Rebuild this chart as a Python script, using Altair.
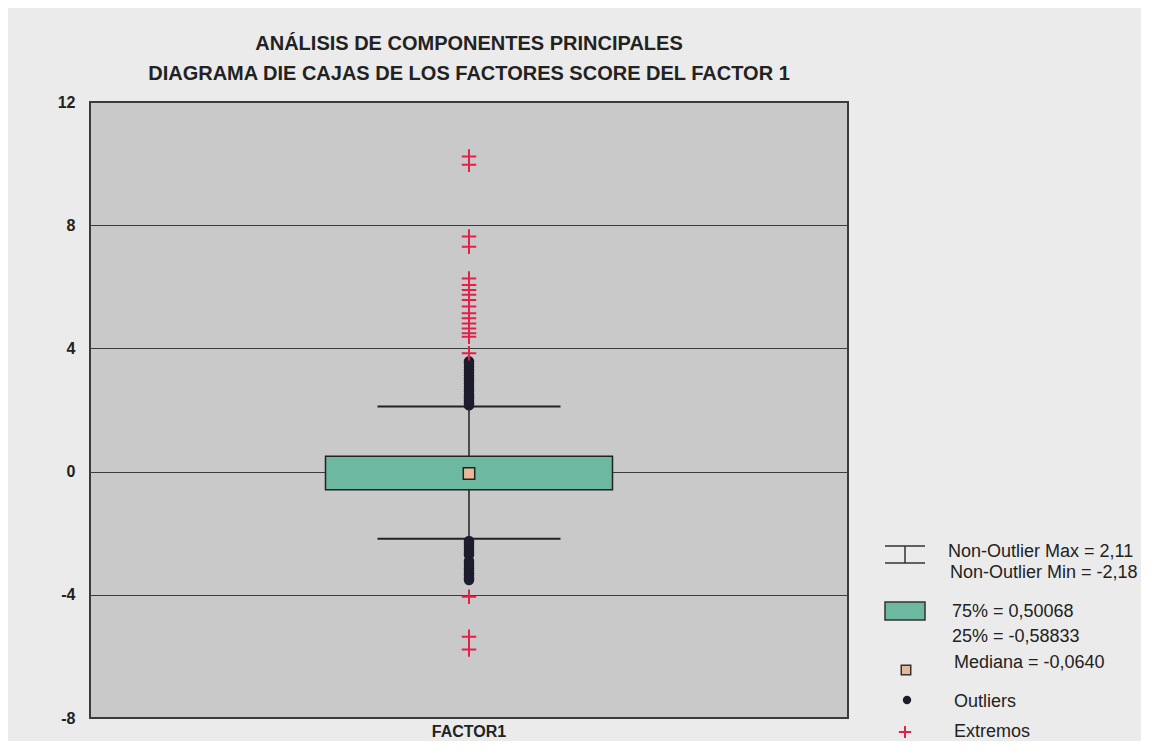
import altair as alt
import pandas as pd

# ---- data ----
category = ["FACTOR1"]
q1 = [-0.58833]
q3 = [0.50068]
median = [-0.0640]
whisker_low = [-2.18]
whisker_high = [2.11]

outliers = [2.15, 2.22, 2.30, 2.38, 2.45, 2.52, 2.60, 2.68, 2.76, 2.85, 2.94,
            3.03, 3.12, 3.21, 3.30, 3.40, 3.50, 3.58,
            -2.25, -2.32, -2.40, -2.48, -2.56, -2.64, -2.70, -2.90, -2.98,
            -3.06, -3.14, -3.22, -3.30, -3.38, -3.46, -3.52]
extremes = [10.23, 9.96, 7.63, 7.30, 6.27, 6.06, 5.90, 5.74, 5.57, 5.36, 5.14,
            4.98, 4.81, 4.65, 4.49, 4.38, 3.84, -4.06, -5.36, -5.78]

y_ticks = [12, 8, 4, 0, -4, -8]
title_lines = ["ANÁLISIS DE COMPONENTES PRINCIPALES",
               "DIAGRAMA DIE CAJAS DE LOS FACTORES SCORE DEL FACTOR 1"]
legend_texts = ["Non-Outlier Max = 2,11", "Non-Outlier Min = -2,18",
                "75% = 0,50068", "25% = -0,58833", "Mediana = -0,0640",
                "Outliers", "Extremos"]

FONT = "Liberation Sans"
TEAL = "#6cb8a0"
MED = "#e9b898"
DARK = "#1c1c2c"
RED = "#e3204a"
W, H = 758, 616

stats = pd.DataFrame({"cat": category, "q1": q1, "q3": q3, "med": median,
                      "lo": whisker_low, "hi": whisker_high})
out_df = pd.DataFrame({"cat": category * len(outliers), "v": outliers})
ext_df = pd.DataFrame({"cat": category * len(extremes), "v": extremes})

xenc = alt.X("cat:N", title=None,
             axis=alt.Axis(labelAngle=0, ticks=False, domain=False,
                           labelFont=FONT, labelFontSize=16, labelFontWeight="bold",
                           labelColor="#222", labelPadding=5))
yscale = alt.Scale(domain=[-8, 12], nice=False, zero=False)
yenc_axis = alt.Axis(values=y_ticks, grid=True, gridColor="#3c3c3c", gridWidth=1.2,
                     ticks=False, domain=False, labelFont=FONT, labelFontSize=16,
                     labelFontWeight="bold", labelColor="#222", labelPadding=15,
                     labelExpr="'' + datum.value")

base = alt.Chart(stats)

stem_up = base.mark_rule(color="#222", strokeWidth=1.5).encode(
    x=xenc, y=alt.Y("q3:Q", scale=yscale, axis=yenc_axis, title=None), y2="hi:Q")
stem_dn = base.mark_rule(color="#222", strokeWidth=1.5).encode(
    x="cat:N", y=alt.Y("lo:Q", scale=yscale), y2="q1:Q")
cap_hi = base.mark_tick(color="#222", thickness=2, size=183, opacity=1).encode(
    x="cat:N", y=alt.Y("hi:Q", scale=yscale))
cap_lo = base.mark_tick(color="#222", thickness=2, size=183, opacity=1).encode(
    x="cat:N", y=alt.Y("lo:Q", scale=yscale))

outs = alt.Chart(out_df).mark_circle(size=110, color=DARK, opacity=1).encode(
    x="cat:N", y=alt.Y("v:Q", scale=yscale))

box = base.mark_bar(size=287, color=TEAL, stroke="#222", strokeWidth=1.5).encode(
    x="cat:N", y=alt.Y("q1:Q", scale=yscale), y2="q3:Q")
med = base.mark_square(size=130, color=MED, stroke="#222", strokeWidth=1.5,
                       opacity=1).encode(x="cat:N", y=alt.Y("med:Q", scale=yscale))

plus_path = "M-1,0H1M0,-1V1"
ext = alt.Chart(ext_df).mark_point(shape=plus_path, size=210, filled=False,
                                   color=RED, strokeWidth=2, opacity=1).encode(
    x="cat:N", y=alt.Y("v:Q", scale=yscale))

# ---- legend (drawn to the right of the plot) ----
one = pd.DataFrame({"k": [0]})
lg = []
lg.append(alt.Chart(one).mark_rule(color="#333", strokeWidth=1.5).encode(
    x=alt.value(795), x2=alt.value(835), y=alt.value(444)))
lg.append(alt.Chart(one).mark_rule(color="#333", strokeWidth=1.5).encode(
    x=alt.value(795), x2=alt.value(835), y=alt.value(461)))
lg.append(alt.Chart(one).mark_rule(color="#333", strokeWidth=1.5).encode(
    x=alt.value(815), y=alt.value(444), y2=alt.value(461)))
lg.append(alt.Chart(one).mark_rect(color=TEAL, stroke="#333", strokeWidth=1.5).encode(
    x=alt.value(795), x2=alt.value(835), y=alt.value(500), y2=alt.value(518)))
lg.append(alt.Chart(one).mark_square(size=90, color=MED, stroke="#333",
                                     strokeWidth=1.5, opacity=1).encode(
    x=alt.value(816), y=alt.value(568)))
lg.append(alt.Chart(one).mark_circle(size=70, color=DARK, opacity=1).encode(
    x=alt.value(817), y=alt.value(598)))
lg.append(alt.Chart(one).mark_point(shape=plus_path, size=150, filled=False,
                                    color=RED, strokeWidth=2, opacity=1).encode(
    x=alt.value(815), y=alt.value(630)))

text_pos = [(858, 450), (860, 471), (862, 510), (862, 535), (864, 561),
            (864, 600), (864, 630)]
for t, (px, py) in zip(legend_texts, text_pos):
    lg.append(alt.Chart(one).mark_text(text=t, align="left", baseline="middle",
                                       font=FONT, fontSize=18, color="#222").encode(
        x=alt.value(px), y=alt.value(py)))

chart = alt.layer(stem_up, stem_dn, cap_hi, cap_lo, outs, box, med, ext, *lg).properties(
    width=W, height=H,
    autosize=alt.AutoSizeParams(type="none"),
    padding={"left": 82, "top": 94, "right": 293, "bottom": 23},
    title=alt.TitleParams(text=title_lines, font=FONT, fontSize=20, fontWeight="bold",
                          color="#222", anchor="middle", lineHeight=30, offset=10),
).configure(
    background="#ebebeb",
    view=alt.ViewConfig(fill="#c9c9c9", stroke="#3a3a3a", strokeWidth=2),
)

chart.save("out.html", embed_options={"renderer": "svg", "actions": False})
